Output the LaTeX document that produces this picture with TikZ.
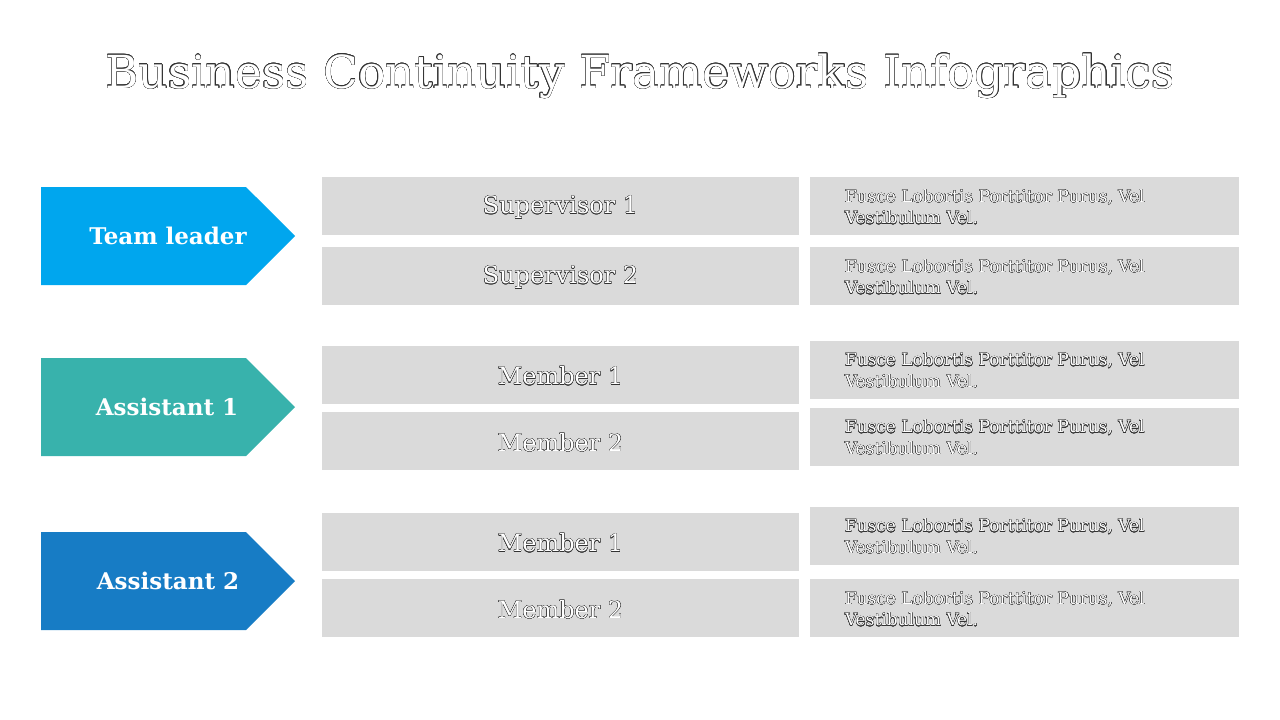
\documentclass[tikz,border=0pt]{standalone}
\usepackage{fontspec}
\setmainfont{DejaVu Serif}
\usepackage{contour}
\contourlength{0.25pt}
\usetikzlibrary{shapes.symbols}
\definecolor{cA}{HTML}{00A6EE}
\definecolor{cB}{HTML}{38B2AC}
\definecolor{cC}{HTML}{177CC5}
\definecolor{boxgray}{HTML}{DADADA}
\definecolor{edge}{HTML}{333333}
\newcommand{\olt}[1]{\contour{edge}{\textcolor{white}{#1}}}
\tikzset{
  arrowbox/.style={signal, signal to=east, signal pointer angle=90, minimum width=254pt, minimum height=98pt, inner sep=0pt},
  arrowtext/.style={text=white, inner sep=0pt, font=\fontsize{23}{27}\selectfont\bfseries},
  midbox/.style={fill=boxgray, minimum width=477pt, minimum height=58pt, inner sep=0pt, font=\fontsize{24}{28}\selectfont},
  midtext/.style={inner sep=0pt, font=\fontsize{24}{28}\selectfont},
  descbox/.style={fill=boxgray, minimum width=429pt, minimum height=58pt, inner sep=0pt},
  desctext/.style={anchor=west, align=left, inner sep=0pt, font=\fontsize{17}{21.5}\selectfont},
}
\begin{document}
\begin{tikzpicture}[x=1pt,y=-1pt]
\useasboundingbox (0,0) rectangle (1280,720);
\node (title) at (640,76) {\fontsize{45.5}{52}\selectfont\olt{Business Continuity Frameworks Infographics}};
% arrows
\node[arrowbox, fill=cA] (a1) at (143.5,236) {};
\node[arrowbox, fill=cB] (a2) at (143.5,407) {};
\node[arrowbox, fill=cC] (a3) at (143.5,581) {};
\node[arrowtext] (l1) at (168,236) {Team leader};
\node[arrowtext] (l2) at (167,407) {Assistant 1};
\node[arrowtext] (l3) at (168,581) {Assistant 2};
% middle boxes
\foreach \n/\y/\t in {1/206/Supervisor 1,2/276/Supervisor 2,3/374.5/Member 1,4/441/Member 2,5/541.5/Member 1,6/608/Member 2}{
  \node[midbox] (m\n) at (560.5,\y) {};
  \node[midtext] (mt\n) at ([yshift=-1.5pt]m\n.center) {\olt{\t}};
}
% right boxes
\foreach \n/\y in {1/206,2/276,3/369.5,4/436.5,5/535.5,6/608}{
  \node[descbox] (d\n) at (1024.5,\y) {};
  \node[desctext] (t\n) at ([xshift=35pt,yshift=-1pt]d\n.west) {\olt{Fusce Lobortis Porttitor Purus, Vel}\\\olt{Vestibulum Vel.}};
}
\end{tikzpicture}
\end{document}
